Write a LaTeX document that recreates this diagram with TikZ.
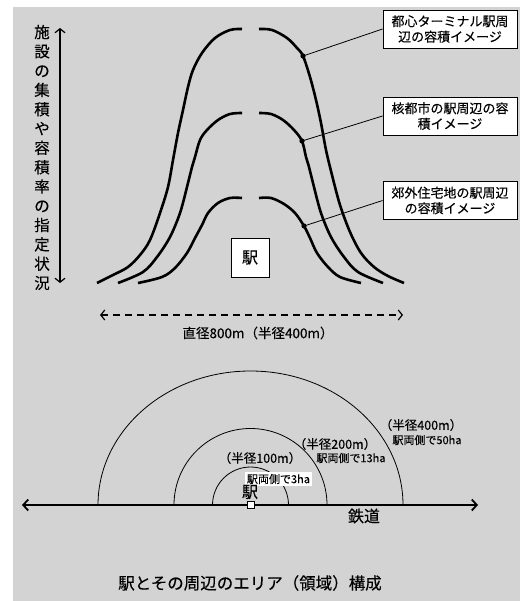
\documentclass[tikz,border=0pt]{standalone}
\usepackage{fontspec}
\setmainfont[FakeBold=0.2]{Noto Sans CJK JP}
\usetikzlibrary{arrows.meta}
\definecolor{bg}{RGB}{211,211,211}
\begin{document}
\begin{tikzpicture}[x=1pt,y=-1pt,
  curve/.style={line width=2.6pt, line join=round},
  callout/.style={draw, fill=white, line width=0.8pt, minimum width=134pt, minimum height=38pt, inner sep=0pt, align=center, font=\fontsize{13}{15.5}\selectfont},
  leader/.style={line width=0.8pt},
  dotmark/.style={fill=black},
  barb/.style={line width=1.2pt, {Straight Barb[length=4pt,width=10pt]}-{Straight Barb[length=4pt,width=10pt]}},
  arcline/.style={line width=0.8pt},
  lbl/.style={inner sep=0pt, font=\fontsize{12.5}{12.5}\selectfont},
  small/.style={inner sep=0pt, font=\fontsize{11}{11}\selectfont}
]
\useasboundingbox (0,0) rectangle (520,601);
\fill[bg] (13,7) rectangle (520,601);

% vertical axis label and arrow
\node[inner sep=0pt, align=center, font=\fontsize{15.5}{19.3}\selectfont] (vt) at (42,157.5)
  {施\\設\\の\\集\\積\\や\\容\\積\\率\\の\\指\\定\\状\\況};
\coordinate (va) at (60,28);
\coordinate (vb) at (60,283);
\draw[barb] (va) -- (vb);

% curves (left halves)
\draw[curve] plot[smooth, tension=0.55] coordinates {(97,283) (113,275) (128,267) (140,255) (150,240) (160,213) (168,187) (173,160) (178,133) (183,110) (188,87) (193,70) (202,53) (215,38) (230,30) (242,29)};
\draw[curve] plot[smooth, tension=0.55] coordinates {(118,283) (143,272) (157,257) (170,237) (180,213) (187,187) (192,167) (195,157) (200,140) (207,130) (218,120) (230,114) (242,113)};
\draw[curve] plot[smooth, tension=0.55] coordinates {(138,283) (162,277) (175,268) (187,253) (195,238) (202,225) (208,213) (218,203) (230,198) (242,198)};
% curves (right halves)
\draw[curve] plot[smooth, tension=0.55] coordinates {(259,29) (272,30) (287,38) (297,48) (303,56) (310,77) (316,100) (321,123) (326,150) (332,175) (340,205) (350,232) (361,253) (374,267) (388,276) (404,283)};
\draw[curve] plot[smooth, tension=0.55] coordinates {(259,113) (271,114) (283,120) (294,130) (302,141) (306,157) (309,167) (314,187) (321,213) (331,237) (344,257) (358,272) (383,283)};
\draw[curve] plot[smooth, tension=0.55] coordinates {(259,198) (271,198) (284,204) (295,213) (304,226) (310,238) (317,253) (328,267) (340,277) (361,283)};

% station box
\node[draw, fill=white, line width=0.8pt, minimum width=38pt, minimum height=39pt, inner sep=0pt, font=\fontsize{16}{16}\selectfont] (eki) at (250,257.5) {駅};

% callouts
\node[callout] (b1) at (450,29) {都心ターミナル駅周\\辺の容積イメージ};
\node[callout] (b2) at (450,116) {核都市の駅周辺の容\\積イメージ};
\node[callout] (b3) at (450,200.5) {郊外住宅地の駅周辺\\の容積イメージ};
\coordinate (d1) at (303,56);
\coordinate (d2) at (302,141);
\coordinate (d3) at (304,226);
\draw[leader] (d1) -- (b1.west);
\draw[leader] (d2) -- (b2.west);
\draw[leader] (d3) -- (b3.west);
\fill[dotmark] (d1) circle (2.6pt);
\fill[dotmark] (d2) circle (2.6pt);
\fill[dotmark] (d3) circle (2.6pt);

% diameter arrow
\coordinate (dl) at (100,315);
\coordinate (dr) at (403,315);
\draw[barb, dash pattern=on 7pt off 5pt] (dl) -- (dr);
\node[inner sep=0pt, font=\fontsize{13.5}{13.5}\selectfont] (diam) at (258,333) {直径800m（半径400m）};

% area arcs
\coordinate (st) at (250.5,505);
\draw[arcline] (st) ++(-152.5,0) arc[start angle=180, end angle=0, x radius=152.5pt, y radius=134pt];
\draw[arcline] (st) ++(-76.5,0) arc[start angle=180, end angle=0, radius=76.5pt];
\draw[arcline] (st) ++(-38,0) arc[start angle=180, end angle=0, radius=38pt];

% railway
\coordinate (rl) at (22,505);
\coordinate (rr) at (478,505);
\draw[line width=1.8pt, {Straight Barb[length=5pt,width=11pt]}-{Straight Barb[length=5pt,width=11pt]}] (rl) -- (rr);
\node[inner sep=0pt, font=\fontsize{16}{16}\selectfont] (tetsu) at (364,516) {鉄道};

% labels
\node[lbl] (r400) at (421,425) {（半径400m）};
\node[small] (a400) at (427,440) {駅両側で50ha};
\node[lbl] (r200) at (335,444) {（半径200m）};
\node[small] (a200) at (351,458) {駅両側で13ha};
\node[lbl] (r100) at (260,458) {（半径100m）};
\node[small, fill=white, inner xsep=2pt, inner ysep=1.5pt] (a100) at (278.5,479) {駅両側で3ha};
\node[inner sep=0pt, font=\fontsize{16}{16}\selectfont] (ekil) at (250,492) {駅};
\node[draw, fill=white, line width=1pt, minimum size=7pt, inner sep=0pt] (stn) at (250.5,504.5) {};

% title
\node[inner sep=0pt, font=\fontsize{16.5}{16.5}\selectfont] (title) at (250,583) {駅とその周辺のエリア（領域）構成};
\end{tikzpicture}
\end{document}
